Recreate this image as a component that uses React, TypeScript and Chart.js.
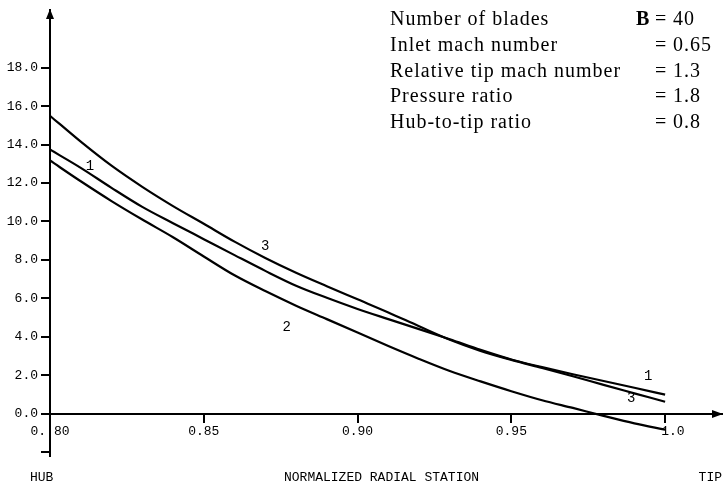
import React, { useEffect, useRef } from 'react';
import { Chart, registerables } from 'chart.js';

Chart.register(...registerables);

// ---- data ----
const stations = [0.80, 0.81, 0.82, 0.83, 0.84, 0.85, 0.86, 0.87, 0.88, 0.89, 0.90, 0.91, 0.92, 0.93, 0.94, 0.95, 0.96, 0.97, 0.98, 0.99, 1.00];
const curve1 = [13.74, 12.79, 11.75, 10.76, 9.91, 9.08, 8.25, 7.43, 6.66, 6.03, 5.45, 4.92, 4.40, 3.87, 3.32, 2.82, 2.42, 2.05, 1.70, 1.35, 0.99];
const curve2 = [13.17, 12.09, 11.06, 10.10, 9.18, 8.18, 7.20, 6.38, 5.62, 4.92, 4.22, 3.52, 2.85, 2.22, 1.68, 1.17, 0.70, 0.30, -0.11, -0.50, -0.83];
const curve3 = [15.50, 14.15, 12.90, 11.80, 10.80, 9.88, 8.95, 8.10, 7.33, 6.63, 5.95, 5.27, 4.55, 3.85, 3.27, 2.80, 2.38, 1.95, 1.50, 1.06, 0.62];

const yTickValues = [-2, 0, 2, 4, 6, 8, 10, 12, 14, 16, 18];
const yTickLabels = ['', '0.0', '2.0', '4.0', '6.0', '8.0', '10.0', '12.0', '14.0', '16.0', '18.0'];
const xTickValues = [0.80, 0.85, 0.90, 0.95, 1.00];
const xTickLabels = ['0. 80', '0.85', '0.90', '0.95', '  1.0'];

const curveTags = ['1', '3', '2', '1', '3'];
const curveTagX = [0.813, 0.870, 0.877, 0.9945, 0.989];
const curveTagY = [12.86, 8.71, 4.51, 1.97, 0.78];

const paramNames = ['Number of blades', 'Inlet mach number', 'Relative tip mach number', 'Pressure ratio', 'Hub-to-tip ratio'];
const paramSymbols = ['B', '', '', '', ''];
const paramValues = ['40', '0.65', '1.3', '1.8', '0.8'];

const xTitle = 'NORMALIZED RADIAL STATION';
const xStartLabel = 'HUB';
const xEndLabel = 'TIP';

const MONO = '"Liberation Mono", "DejaVu Sans Mono", monospace';
const SERIF = '"Liberation Serif", "DejaVu Serif", serif';

const decorations = {
  id: 'decorations',
  afterDraw(chart: any) {
    const { ctx, chartArea, scales } = chart;
    const xs = scales.x;
    const ys = scales.y;
    const y0 = Math.round(ys.getPixelForValue(0));
    const ax = Math.round(chartArea.left);
    ctx.save();
    ctx.fillStyle = '#000';
    // arrow heads
    ctx.beginPath();
    ctx.moveTo(ax, chartArea.top - 1);
    ctx.lineTo(ax - 4, chartArea.top + 9);
    ctx.lineTo(ax + 4, chartArea.top + 9);
    ctx.closePath();
    ctx.fill();
    ctx.beginPath();
    ctx.moveTo(chartArea.right + 1, y0);
    ctx.lineTo(chartArea.right - 10, y0 - 4);
    ctx.lineTo(chartArea.right - 10, y0 + 4);
    ctx.closePath();
    ctx.fill();

    // curve tags
    ctx.font = `14px ${MONO}`;
    ctx.textAlign = 'center';
    ctx.textBaseline = 'middle';
    curveTags.forEach((t, i) => {
      ctx.fillText(t, xs.getPixelForValue(curveTagX[i]), ys.getPixelForValue(curveTagY[i]));
    });

    // parameter block
    ctx.textAlign = 'left';
    ctx.textBaseline = 'alphabetic';
    (ctx as any).letterSpacing = '1px';
    paramNames.forEach((n, i) => {
      const by = 25 + i * 25.8;
      ctx.font = `20px ${SERIF}`;
      ctx.fillText(n, 390, by);
      ctx.fillText('=', 655, by);
      ctx.fillText(paramValues[i], 673, by);
      if (paramSymbols[i]) {
        ctx.font = `bold 20px ${SERIF}`;
        ctx.fillText(paramSymbols[i], 636, by);
      }
    });

    // axis captions
    (ctx as any).letterSpacing = '0px';
    ctx.font = `13px ${MONO}`;
    ctx.textBaseline = 'middle';
    ctx.textAlign = 'left';
    ctx.fillText(xStartLabel, 30, 478);
    ctx.fillText(xTitle, 284, 478);
    ctx.textAlign = 'right';
    ctx.fillText(xEndLabel, 722, 478);
    ctx.restore();
  },
};

export default function App() {
  const canvasRef = useRef<HTMLCanvasElement | null>(null);

  useEffect(() => {
    if (!canvasRef.current) return;
    const mk = (vals: number[]) => stations.map((x, i) => ({ x, y: vals[i] }));
    const lineStyle = {
      borderColor: '#000',
      borderWidth: 2.2,
      pointRadius: 0,
      fill: false,
      cubicInterpolationMode: 'monotone' as const,
    };
    const chart = new Chart(canvasRef.current, {
      type: 'line',
      data: {
        datasets: [
          { label: '1', data: mk(curve1), ...lineStyle },
          { label: '2', data: mk(curve2), ...lineStyle },
          { label: '3', data: mk(curve3), ...lineStyle },
        ],
      },
      options: {
        animation: false,
        responsive: false,
        devicePixelRatio: 1,
        layout: { padding: { top: 10, right: 2, bottom: 29, left: 0 } },
        plugins: { legend: { display: false }, tooltip: { enabled: false } },
        scales: {
          x: {
            type: 'linear',
            min: 0.8,
            max: 1.0185,
            position: { y: 0 } as any,
            afterBuildTicks: (s: any) => {
              s.ticks = xTickValues.map((v) => ({ value: v }));
            },
            afterFit: (s: any) => {
              s.paddingLeft = 0;
              s.paddingRight = 0;
            },
            grid: { drawOnChartArea: false, drawTicks: true, tickLength: 8, color: '#000', lineWidth: 2 },
            border: { display: true, color: '#000', width: 2 },
            ticks: {
              autoSkip: false,
              maxRotation: 0,
              padding: 2,
              color: '#000',
              font: { family: MONO, size: 13 },
              callback: (_v: any, i: number) => xTickLabels[i],
            },
          },
          y: {
            type: 'linear',
            min: -2.2,
            max: 21,
            afterBuildTicks: (s: any) => {
              s.ticks = yTickValues.map((v) => ({ value: v }));
            },
            afterFit: (s: any) => {
              s.width = 50;
              s.paddingTop = 0;
              s.paddingBottom = 0;
            },
            grid: { drawOnChartArea: false, drawTicks: true, tickLength: 9, color: '#000', lineWidth: 2 },
            border: { display: true, color: '#000', width: 2 },
            ticks: {
              autoSkip: false,
              padding: 3,
              color: '#000',
              font: { family: MONO, size: 13 },
              callback: (_v: any, i: number) => yTickLabels[i],
            },
          },
        },
      },
      plugins: [decorations],
    });
    return () => chart.destroy();
  }, []);

  return (
    <div style={{ position: 'fixed', left: 0, top: 0, width: 724, height: 485, background: '#fff' }}>
      <canvas ref={canvasRef} width={724} height={485} style={{ width: 724, height: 485, display: 'block' }} />
    </div>
  );
}
